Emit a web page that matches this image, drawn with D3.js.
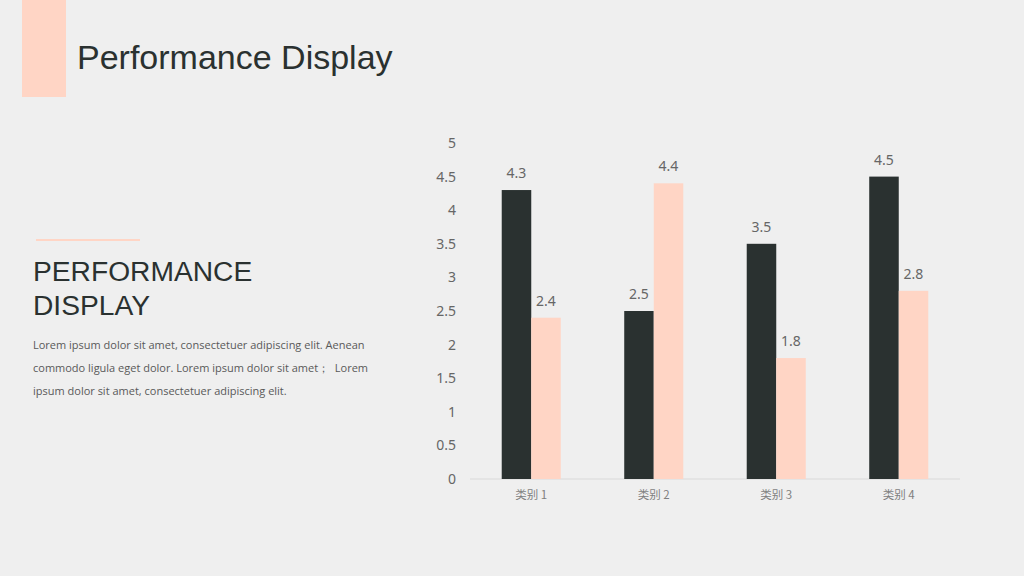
<!DOCTYPE html>
<html>
<head>
<meta charset="utf-8">
<script src="https://cdn.jsdelivr.net/npm/d3@7"></script>
<style>
  body { margin: 0; background: #efefef; }
  svg { display: block; }
</style>
</head>
<body>
<div id="chart"></div>
<script>
// chart data
const categories = ["类别 1", "类别 2", "类别 3", "类别 4"];
const series1 = [4.3, 2.5, 3.5, 4.5];
const series2 = [2.4, 4.4, 1.8, 2.8];
const yTicks = [0, 0.5, 1, 1.5, 2, 2.5, 3, 3.5, 4, 4.5, 5];
const bodyLines = [
    "Lorem ipsum dolor sit amet, consectetuer adipiscing elit. Aenean",
    "commodo ligula eget dolor. Lorem ipsum dolor sit amet\uFF1B  Lorem",
    "ipsum dolor sit amet, consectetuer adipiscing elit."
];

const W = 1024, H = 576;
const dark = "#2a3130", peach = "#ffd5c5";

const svg = d3.select("#chart")
    .append("svg")
    .attr("width", W)
    .attr("height", H);

svg.append("rect").attr("width", W).attr("height", H).attr("fill", "#efefef");

// header
svg.append("rect").attr("x", 22).attr("y", 0).attr("width", 44).attr("height", 97).attr("fill", peach);
svg.append("text")
    .attr("x", 77).attr("y", 69)
    .attr("font-family", "Liberation Sans, Arial, sans-serif")
    .attr("font-size", 34)
    .attr("fill", dark)
    .text("Performance Display");

// left text block
svg.append("rect").attr("x", 36).attr("y", 239).attr("width", 104).attr("height", 2).attr("fill", peach);
["PERFORMANCE", "DISPLAY"].forEach((t, i) => {
    svg.append("text")
        .attr("x", 33).attr("y", 281 + i * 34)
        .attr("font-family", "Liberation Sans, Arial, sans-serif")
        .attr("font-size", 28.2)
        .attr("fill", dark)
        .text(t);
});
bodyLines.forEach((t, i) => {
    svg.append("text")
        .attr("x", 33).attr("y", 349 + i * 23)
        .attr("font-family", "Open Sans, sans-serif")
        .attr("font-size", 11)
        .attr("fill", "#595959")
        .attr("xml:space", "preserve")
        .text(t);
});

// chart
const x = d3.scaleBand()
    .domain(categories)
    .range([470, 960])
    .paddingInner(0.518)
    .paddingOuter(0.259);

const y = d3.scaleLinear()
    .domain([0, 5])
    .range([479, 143]);

const g = svg.append("g");

g.append("line")
    .attr("x1", 470).attr("x2", 960)
    .attr("y1", y(0)).attr("y2", y(0))
    .attr("stroke", "#d9d9d9").attr("stroke-width", 1);

const yAxis = g.append("g")
    .attr("transform", "translate(456,0)")
    .call(d3.axisLeft(y).tickValues(yTicks).tickSize(0).tickPadding(0).tickFormat(d3.format("")));
yAxis.select(".domain").remove();
yAxis.selectAll("text")
    .attr("font-family", "Noto Sans, sans-serif")
    .attr("font-size", 14)
    .attr("fill", "#666666");

const xAxis = g.append("g")
    .attr("transform", `translate(0,${y(0)})`)
    .call(d3.axisBottom(x).tickSize(0).tickPadding(12));
xAxis.select(".domain").remove();
xAxis.selectAll("text")
    .attr("font-family", "Noto Sans CJK SC, sans-serif")
    .attr("font-size", 11.5)
    .attr("fill", "#7f7f7f");

const half = x.bandwidth() / 2;
const groups = [series1, series2];
const colors = [dark, peach];

groups.forEach((vals, s) => {
    g.append("g")
        .selectAll("rect")
        .data(vals)
        .join("rect")
        .attr("x", (d, i) => x(categories[i]) + s * half)
        .attr("y", d => y(d))
        .attr("width", half)
        .attr("height", d => y(0) - y(d))
        .attr("fill", colors[s]);

    g.append("g")
        .selectAll("text")
        .data(vals)
        .join("text")
        .attr("x", (d, i) => x(categories[i]) + s * half + half / 2)
        .attr("y", d => y(d) - 12)
        .attr("text-anchor", "middle")
        .attr("font-family", "Noto Sans, sans-serif")
        .attr("font-size", 14)
        .attr("fill", "#666666")
        .text(d => d3.format(".1f")(d));
});
</script>
</body>
</html>
